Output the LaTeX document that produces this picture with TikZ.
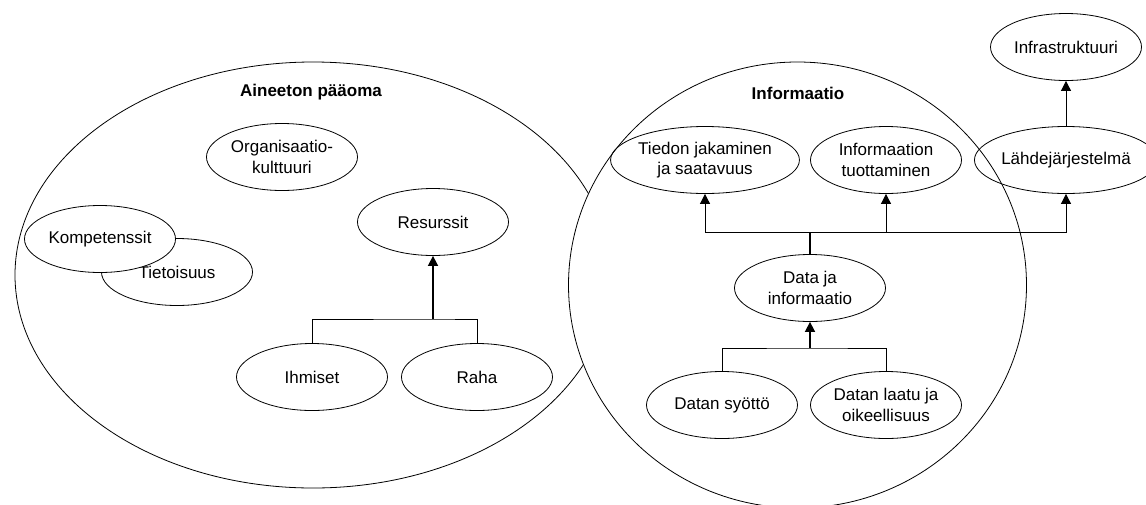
\documentclass[tikz,border=0pt]{standalone}
\usepackage{fontspec}
\setmainfont{Liberation Sans}
\usetikzlibrary{shapes.geometric,arrows.meta}

\begin{document}
\begin{tikzpicture}[x=1pt,y=-1pt,
  bubble/.style={ellipse,draw,line width=0.8pt,minimum width=151pt,minimum height=67pt,
    inner sep=0pt,align=center,font=\fontsize{17}{20.5}\selectfont},
  area/.style={ellipse,draw,line width=0.8pt,inner sep=0pt},
  title/.style={font=\fontsize{17}{20.5}\selectfont\bfseries},
  link/.style={line width=0.8pt},
  trunk/.style={line width=1.6pt},
  tip/.style={-{Triangle[length=10pt,width=10pt]}}
]
\useasboundingbox (0,0) rectangle (1146,504);

% Intangible capital area
\node[area,minimum width=596pt,minimum height=426pt] (aineeton) at (313,275) {};
\node[title] (aineetonlbl) at (311,92) {Aineeton pääoma};

\node[bubble] (org) at (282,157) {Organisaatio-\\kulttuuri};
\node[bubble] (res) at (433,222) {Resurssit};
\node[bubble] (tieto) at (177,272) {Tietoisuus};
\node[bubble,fill=white] (komp) at (100,239) {Kompetenssit};
\node[bubble] (ihm) at (312,377) {Ihmiset};
\node[bubble] (raha) at (477,377) {Raha};

\coordinate (j1) at (433,319);
\draw[link] (ihm.north) |- (j1) -| (raha.north);
\draw[trunk,tip] (j1) -- (res.south);

% Information area
\node[area,fill=white,minimum width=458pt,minimum height=446pt] (info) at (797.5,285) {};
\node[title] (infolbl) at (798,93) {Informaatio};

\node[bubble] (jak) at (705,160) {Tiedon jakaminen\\ja saatavuus};
\node[bubble] (tuot) at (886,160) {Informaation\\tuottaminen};
\node[bubble] (lahde) at (1066,160) {Lähdejärjestelmä};
\node[bubble] (infra) at (1066,47) {Infrastruktuuri};
\node[bubble] (data) at (810,288) {Data ja\\informaatio};
\node[bubble] (syotto) at (722,405) {Datan syöttö};
\node[bubble] (laatu) at (886,405) {Datan laatu ja\\oikeellisuus};

\coordinate (j2) at (810,348);
\coordinate (j3) at (810,232);
\draw[link] (syotto.north) |- (j2) -| (laatu.north);
\draw[trunk,tip] (j2) -- (data.south);
\draw[trunk] (data.north) -- (j3);
\draw[link,tip] (j3) -| (jak.south);
\draw[link,tip] (j3) -| (tuot.south);
\draw[link,tip] (j3) -| (lahde.south);
\draw[link,tip] (lahde.north) -- (infra.south);
\end{tikzpicture}
\end{document}
